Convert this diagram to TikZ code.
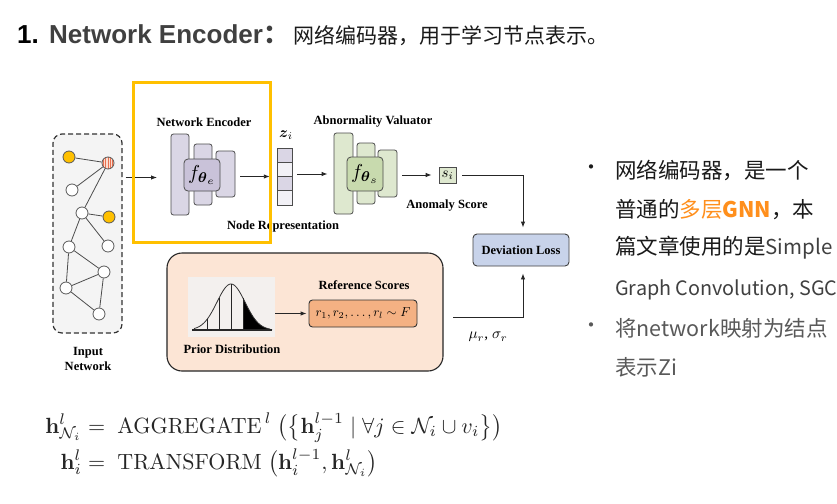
\documentclass[tikz,border=0pt]{standalone}
\usepackage{amsmath}
\usepackage{graphicx}
\usepackage[no-math]{fontspec}
\setmainfont{Liberation Serif}
\newfontfamily\sansf{Liberation Sans}
\newfontfamily\cjk{Noto Sans CJK SC}
\usetikzlibrary{arrows.meta}
\definecolor{lav}{HTML}{DAD6E5}
\definecolor{lavd}{HTML}{C9C2D9}
\definecolor{lavl}{HTML}{F2F1F6}
\definecolor{grn}{HTML}{DEE8CF}
\definecolor{grnd}{HTML}{C8DAAE}
\definecolor{devb}{HTML}{C8D3EA}
\definecolor{peach}{HTML}{FCE5D5}
\definecolor{refo}{HTML}{F4B183}
\definecolor{gold}{HTML}{FFC000}
\definecolor{netbg}{HTML}{F4F4F4}
\definecolor{bellbg}{HTML}{F3F0EE}
\definecolor{orng}{HTML}{FF8F1C}
\definecolor{tgray}{HTML}{404040}
\definecolor{tgray2}{HTML}{595959}
\definecolor{tblack}{HTML}{1A1A1A}
\definecolor{stripe}{HTML}{E8704F}
\definecolor{stripebg}{HTML}{FBDCCF}
\begin{document}
\begin{tikzpicture}[x=1pt,y=-1pt,
  lbl/.style={font=\bfseries\fontsize{12.5}{14}\selectfont, inner sep=0pt},
  arr/.style={-{Latex[length=6pt,width=4.5pt]}, line width=0.9pt, draw=black!85},
  blk/.style={draw=black!70, line width=0.8pt, rounded corners=2.5pt, inner sep=0pt},
  gnode/.style={circle, draw=black!65, fill=white, line width=0.8pt, minimum size=12pt, inner sep=0pt},
  rtxt/.style={anchor=west, inner sep=0pt, font=\cjk\fontsize{21.5}{24}\selectfont},
  edge/.style={draw=black!70, line width=0.8pt}
]
\useasboundingbox[fill=white] (0,0) rectangle (837,503);

% ---------- title ----------
\node[anchor=base west, inner sep=0pt, font=\sansf\bfseries\fontsize{26}{30}\selectfont, text=black] (t1) at (17,44) {1.};
\node[anchor=base west, inner sep=0pt, font=\sansf\bfseries\fontsize{26}{30}\selectfont, text=tgray] (t2) at (49,44) {Network Encoder{\cjk\bfseries ：}};
\node[anchor=base west, inner sep=0pt, font=\cjk\fontsize{21}{24}\selectfont, text=tblack] (t3) at (293,44) {网络编码器，用于学习节点表示。};

% ---------- input network ----------
\node[draw=black!80, dashed, dash pattern=on 5pt off 3pt, line width=1.2pt, rounded corners=9pt, fill=netbg, minimum width=69pt, minimum height=199pt] (innet) at (87.5,233.5) {};
\node[gnode, fill=gold] (n1) at (69,157) {};
\node[gnode, fill=stripebg, path picture={
  \foreach \dx in {-4.5,-2.25,0,2.25,4.5}
    \draw[stripe, line width=0.7pt] ([xshift=\dx pt]path picture bounding box.south) -- ([xshift=\dx pt]path picture bounding box.north);}] (n2) at (108,163) {};
\node[gnode] (n3) at (72,190) {};
\node[gnode] (n4) at (82,213) {};
\node[gnode, fill=gold] (n5) at (109,217) {};
\node[gnode] (n6) at (69,247) {};
\node[gnode] (n7) at (108,246) {};
\node[gnode] (n8) at (104,272) {};
\node[gnode] (n9) at (66,288) {};
\node[gnode] (n10) at (99,314) {};
\foreach \a/\b in {n1/n2,n2/n3,n2/n4,n4/n5,n4/n6,n4/n7,n6/n8,n6/n9,n8/n9,n8/n10,n9/n10}
  \draw[edge] (\a) -- (\b);
\node[lbl, align=center] (inlbl) at (88,358.5) {Input\\[1pt]Network};

% ---------- encoder ----------
\node[lbl] (enclbl) at (204,122) {Network Encoder};
\node[blk, fill=lav, minimum width=18pt, minimum height=81pt] (e1) at (180,174.5) {};
\node[blk, fill=lav, minimum width=18pt, minimum height=61pt] (e2) at (203,174.5) {};
\node[blk, fill=lav, minimum width=19pt, minimum height=46pt] (e3) at (225.5,174) {};
\node[blk, fill=lavd, rounded corners=4pt, minimum width=36pt, minimum height=32pt] (ec) at (202,175) {\resizebox{28pt}{!}{$f_{\boldsymbol{\theta}_e}$}};
\coordinate (encin) at (157,177.5);
\draw[arr, shorten <=3pt] (innet.east |- encin) -- (encin);

% ---------- node representation ----------
\node[inner sep=0pt, minimum width=15pt, minimum height=57pt] (zv) at (284.5,176.5) {};
\node[draw=black!70, line width=0.7pt, fill=lav, minimum width=15pt, minimum height=14.25pt, inner sep=0pt] (z1) at (284.5,155.1) {};
\node[draw=black!70, line width=0.7pt, fill=lavl, minimum width=15pt, minimum height=14.25pt, inner sep=0pt] (z2) at (284.5,169.4) {};
\node[draw=black!70, line width=0.7pt, fill=lav, minimum width=15pt, minimum height=14.25pt, inner sep=0pt] (z3) at (284.5,183.6) {};
\node[draw=black!70, line width=0.7pt, fill=lavl, minimum width=15pt, minimum height=14.25pt, inner sep=0pt] (z4) at (284.5,197.9) {};
\node[inner sep=0pt] (zlbl) at (286,135) {\resizebox{14pt}{!}{$\boldsymbol{z}_i$}};
\node[lbl] (nrlbl) at (283,226) {Node Representation};
\draw[arr, shorten <=5pt, shorten >=7pt] (e3.east |- zv.west) -- (zv.west);

% ---------- valuator ----------
\node[lbl] (vallbl) at (373,122) {Abnormality Valuator};
\node[blk, fill=grn, minimum width=19pt, minimum height=81pt] (v1) at (343.5,173.5) {};
\node[blk, fill=grn, minimum width=18pt, minimum height=61pt] (v2) at (366,173.5) {};
\node[blk, fill=grn, minimum width=19pt, minimum height=47pt] (v3) at (387.5,173.5) {};
\node[blk, fill=grnd, rounded corners=4pt, minimum width=36pt, minimum height=34pt] (vc) at (365,174) {\resizebox{28pt}{!}{$f_{\boldsymbol{\theta}_s}$}};
\draw[arr, shorten <=5pt, shorten >=6pt] (zv.east |- vc) -- (v1.west |- vc);

% ---------- score ----------
\node[draw=black!70, line width=0.7pt, fill=grn, minimum width=17pt, minimum height=16pt, inner sep=0pt] (si) at (447.5,175) {\resizebox{12pt}{!}{$s_i$}};
\node[lbl] (aslbl) at (447,206) {Anomaly Score};
\draw[arr, shorten <=5pt, shorten >=7pt] (v3.east |- si) -- (si.west);

% ---------- deviation loss ----------
\node[draw=black!75, line width=0.9pt, rounded corners=4pt, fill=devb, minimum width=96pt, minimum height=32pt, inner sep=0pt, font=\bfseries\fontsize{12.5}{14}\selectfont] (dev) at (521,250) {Deviation Loss};
\draw[arr, shorten <=6pt, shorten >=6pt] (si.east) -| ([xshift=2pt]dev.north);

% ---------- prior ----------
\node[draw=black!85, line width=1.1pt, rounded corners=15pt, fill=peach, minimum width=276pt, minimum height=118pt] (prior) at (305,312) {};
\node[fill=bellbg, minimum width=87pt, minimum height=60pt, inner sep=0pt] (bell) at (231.5,307) {};
\fill[black] plot[domain=243:272, samples=30] (\x, {330-46*exp(-((\x-231)^2)/392)}) -- (272,330) -- (243,330) -- cycle;
\draw[black!80, line width=0.8pt] plot[domain=194:270, samples=80] (\x, {330-46*exp(-((\x-231)^2)/392)});
\foreach \vx in {207,219,231,243}
  \draw[black!85, line width=0.8pt] (\vx,330) -- (\vx,{330-46*exp(-((\vx-231)^2)/392)});
\draw[black!85, line width=1.2pt] (192,330) -- (272,330);
\node[lbl] (pdlbl) at (232,349) {Prior Distribution};
\node[lbl] (rslbl) at (364,285) {Reference Scores};
\node[draw=black!80, line width=0.9pt, rounded corners=3.5pt, fill=refo, minimum width=108pt, minimum height=27pt, inner sep=0pt] (ref) at (363,313.5) {\resizebox{95pt}{!}{$r_1, r_2, \ldots, r_l \sim F$}};
\draw[arr, shorten >=2pt] (bell.east |- ref) -- (ref.west);

\coordinate (ms) at (453,317);
\draw[arr, shorten >=7pt] (ms) -| ([xshift=2pt]dev.south);
\node[inner sep=0pt] (mslbl) at (488,337) {\resizebox{39pt}{!}{$\mu_r$, $\sigma_r$}};

% ---------- highlight ----------
\node[draw=gold, line width=3pt, minimum width=137pt, minimum height=160pt, inner sep=0pt] (hl) at (201.5,162) {};

% ---------- right text ----------
\node[inner sep=0pt, font=\cjk\fontsize{20}{20}\selectfont, text=tblack] (b1) at (591,170) {•};
\node[rtxt, text=tblack] (r1) at (615,170) {网络编码器，是一个};
\node[rtxt, text=tblack] (r2) at (615,210) {普通的{\color{orng}多层\bfseries GNN}，本};
\node[rtxt, text=tblack] (r3) at (615,248) {篇文章使用的是{\color{tgray}\fontsize{20.5}{24}\selectfont Simple}};
\node[rtxt, text=tgray, font=\cjk\fontsize{19.8}{24}\selectfont] (r4) at (615,290) {Graph Convolution, SGC};
\node[inner sep=0pt, font=\cjk\fontsize{20}{20}\selectfont, text=tgray2] (b2) at (591,328) {•};
\node[rtxt, text=tgray2] (r5) at (615,328) {将network映射为结点};
\node[rtxt, text=tgray2] (r6) at (615,367) {表示Zi};

% ---------- formulas ----------
\node[anchor=west, inner sep=0pt, scale=2.2, text=black!85] (eq) at (45,445) {$\begin{aligned}
\mathbf{h}^{l}_{\mathcal{N}_i} &=\; \mathrm{AGGREGATE}^{\,l}\;\big(\big\{\mathbf{h}^{l-1}_{j} \mid \forall j\in\mathcal{N}_i\cup v_i\big\}\big)\\[-1pt]
\mathbf{h}^{l}_{i} &=\; \mathrm{TRANSFORM}\;\big(\mathbf{h}^{l-1}_{i},\mathbf{h}^{l}_{\mathcal{N}_i}\big)
\end{aligned}$};
\end{tikzpicture}
\end{document}
